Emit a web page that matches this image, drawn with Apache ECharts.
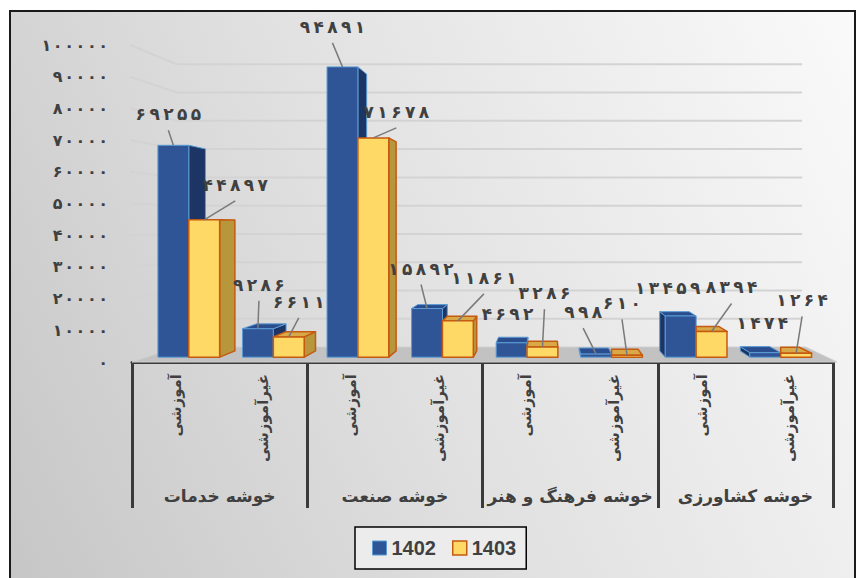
<!DOCTYPE html>
<html><head><meta charset="utf-8">
<script src="https://cdn.jsdelivr.net/npm/echarts@6/dist/echarts.min.js"></script>
<style>
html,body{margin:0;padding:0;background:#fff;width:860px;height:578px;overflow:hidden;}
#frame{position:absolute;left:9px;top:10px;width:843px;height:580px;border:2px solid #1a1a1a;
background:linear-gradient(65deg,#c6c6c6 0%,#e0e0e0 45%,#fafafa 100%);}
#chart{position:absolute;left:0;top:0;width:860px;height:578px;}
</style></head><body>
<div id="frame"></div>
<div id="chart"></div>
<script>
// ---- data ----
const groups = ['خوشه خدمات', 'خوشه صنعت', 'خوشه فرهنگ و هنر', 'خوشه کشاورزی'];
const subCategories = ['آموزشی', 'غیرآموزشی', 'آموزشی', 'غیرآموزشی', 'آموزشی', 'غیرآموزشی', 'آموزشی', 'غیرآموزشی'];
const seriesNames = ['1402', '1403'];
const values1402 = [69255, 9286, 94891, 15892, 4692, 998, 13459, 1474];
const values1403 = [44897, 6611, 71678, 11861, 3286, 610, 8394, 1264];
const yTicks = [0, 10000, 20000, 30000, 40000, 50000, 60000, 70000, 80000, 90000, 100000];

// ---- styling (not data) ----
const FA = '۰۱۲۳۴۵۶۷۸۹';
const faSpaced = (n, gap) => '\u202D' + String(n).split('').map(d => FA[d]).join(gap) + '\u202C';
const VP = [0.591, 0.563];          // vanishing point, fraction of plot rect
const TF = 0.035, TB = 0.08, TW = 0.108;
const BAR_W = 0.365;
const FACE = [
  {front: '#2F5597', side: '#1C3564', top: '#2A4E8D', stroke: '#5B9BD5', lw: 1},
  {front: '#FFD966', side: '#B8963C', top: '#D9A947', stroke: '#C55A11', lw: 1.5}
];
const LABEL_OFFSETS = [
  [[-5, -31], [1, -44], [-10, -40], [-6, -40], [-4, -29], [-13, -42], [-13, -28], [-3, -30]],
  [[31, -35], [10, -35], [23, -26], [26, -43], [2, -54], [-5, -52], [20, -44], [6, -53]]
];
const LEADERS = [[1, 1, 1, 1, 0, 1, 0, 0], [1, 1, 1, 1, 1, 1, 1, 1]];
const TXT = '#404040';
const FAFONT = '"DejaVu Sans", sans-serif';

function geometry(si, params, api) {
  const cs = params.coordSys;
  const vx = cs.x + VP[0] * cs.width, vy = cs.y + VP[1] * cs.height;
  const P = (x, y, t) => [x + (vx - x) * t, y + (vy - y) * t];
  const i = api.value(0), v = api.value(1);
  const cw = api.size([1, 0])[0];
  const base = api.coord([i, 0]), tip = api.coord([i, v]);
  const xl = base[0] + (si === 0 ? -BAR_W * cw : 0), xr = xl + BAR_W * cw;
  const y0 = base[1], yv = tip[1];
  return {i, v, vx, vy, xl, xr, yv,
    fl0: P(xl, y0, TF), fr0: P(xr, y0, TF), fr1: P(xr, yv, TF), fl1: P(xl, yv, TF),
    bl0: P(xl, y0, TB), br0: P(xr, y0, TB), br1: P(xr, yv, TB), bl1: P(xl, yv, TB)};
}

function makeBarRender(si) {
  return function (params, api) {
    const g = geometry(si, params, api);
    const f = FACE[si];
    const poly = (pts, fill) => ({type: 'polygon', shape: {points: pts},
      style: {fill: fill, stroke: f.stroke, lineWidth: f.lw, lineJoin: 'round'}});
    const ch = [];
    if (g.xr < g.vx) ch.push(poly([g.fr0, g.br0, g.br1, g.fr1], f.side));
    if (si === 0 && g.xl > g.vx) ch.push(poly([g.fl0, g.bl0, g.bl1, g.fl1], f.side));
    if (g.yv > g.vy) {
      let pts = [g.fl1, g.fr1, g.br1, g.bl1];
      if (si === 1 && g.xl > g.vx) {
        const k = (g.fl1[0] - g.bl1[0]) / (g.br1[0] - g.bl1[0]);
        pts = [g.fl1, g.fr1, g.br1, [g.fl1[0], g.bl1[1] + (g.br1[1] - g.bl1[1]) * k]];
      }
      ch.push(poly(pts, f.top));
    }
    ch.push(poly([g.fl0, g.fr0, g.fr1, g.fl1], f.front));
    return {type: 'group', children: ch};
  };
}

function makeLabelRender(si) {
  return function (params, api) {
    const g = geometry(si, params, api);
    const tc = [(g.fl1[0] + g.fr1[0]) / 2, g.fl1[1]];
    const off = LABEL_OFFSETS[si][g.i];
    const lx = tc[0] + off[0], ly = tc[1] + off[1];
    const ch = [];
    if (LEADERS[si][g.i]) {
      ch.push({type: 'line', shape: {x1: lx, y1: ly + 16, x2: tc[0], y2: tc[1]},
        style: {stroke: '#7a7a7a', lineWidth: 1.5}});
    }
    ch.push({type: 'text', x: lx, y: ly,
      style: {text: faSpaced(g.v, '\u2009'), fill: TXT, font: 'bold 17px ' + FAFONT, align: 'center', verticalAlign: 'middle'}});
    return {type: 'group', children: ch};
  };
}

function wallRender(params, api) {
  const cs = params.coordSys;
  const vx = cs.x + VP[0] * cs.width, vy = cs.y + VP[1] * cs.height;
  const P = (x, y, t) => [x + (vx - x) * t, y + (vy - y) * t];
  const v = api.value(1);
  const y = api.coord([0, v])[1];
  const xL = cs.x, xR = cs.x + cs.width;
  if (v === 0) {
    return {type: 'polygon', shape: {points: [[xL, y], [xR + 4, y], P(xR + 4, y, TW), P(xL, y, TW)]},
      style: {fill: '#c2c2c2', stroke: '#cfcfcf', lineWidth: 1}};
  }
  return {type: 'polyline', shape: {points: [[xL - 2, y], P(xL, y, TW), P(xR, y, TW)]},
    style: {fill: 'none', stroke: '#d3d3d3', lineWidth: 2}};
}

const data1402 = values1402.map((v, i) => [i, v]);
const data1403 = values1403.map((v, i) => [i, v]);

const chart = echarts.init(document.getElementById('chart'), null, {renderer: 'svg'});
chart.setOption({
  backgroundColor: 'transparent',
  animation: false,
  grid: {left: 132, right: 27, top: 45, bottom: 216, containLabel: false},
  legend: {
    left: 355, top: 527, itemWidth: 14, itemHeight: 14, itemGap: 16,
    padding: [11, 10, 11, 17], borderColor: '#000', borderWidth: 1.5, backgroundColor: '#ececec',
    icon: 'rect',
    textStyle: {fontFamily: 'Liberation Sans', fontWeight: 'bold', fontSize: 20, color: TXT},
    data: [
      {name: seriesNames[0], itemStyle: {color: FACE[0].front, borderColor: FACE[0].stroke, borderWidth: 1}},
      {name: seriesNames[1], itemStyle: {color: FACE[1].front, borderColor: FACE[1].stroke, borderWidth: 1.5}}
    ]
  },
  xAxis: [
    {type: 'category', data: subCategories, position: 'bottom',
      axisLine: {show: false}, axisTick: {show: false}, splitLine: {show: false},
      axisLabel: {interval: 0, rotate: 90, margin: 12, color: TXT, fontFamily: FAFONT, fontWeight: 'bold', fontSize: 15}},
    {type: 'category', data: groups, position: 'bottom',
      axisLine: {show: true, lineStyle: {color: '#3a3a3a', width: 3}},
      axisTick: {show: true, interval: 0, length: 146, lineStyle: {color: '#3a3a3a', width: 3}},
      axisLabel: {interval: 0, margin: 125, color: TXT, fontFamily: FAFONT, fontWeight: 'bold', fontSize: 17}}
  ],
  yAxis: {
    type: 'value', min: 0, max: 100000, interval: 10000,
    axisLine: {show: false}, axisTick: {show: false}, splitLine: {show: false},
    axisLabel: {margin: 24, color: TXT, fontFamily: FAFONT, fontWeight: 'bold', fontSize: 16,
      formatter: v => faSpaced(v, '\u200A')}
  },
  series: [
    {type: 'custom', name: 'wall', silent: true, renderItem: wallRender, clip: false,
      encode: {x: 0, y: 1}, data: yTicks.map(v => [0, v]), z: 1},
    {type: 'custom', name: seriesNames[0], renderItem: makeBarRender(0), clip: false,
      itemStyle: {color: FACE[0].front, borderColor: FACE[0].stroke},
      encode: {x: 0, y: 1}, data: data1402, z: 2},
    {type: 'custom', name: seriesNames[1], renderItem: makeBarRender(1), clip: false,
      itemStyle: {color: FACE[1].front, borderColor: FACE[1].stroke},
      encode: {x: 0, y: 1}, data: data1403, z: 3},
    {type: 'custom', name: 'labels1402', silent: true, renderItem: makeLabelRender(0), clip: false,
      encode: {x: 0, y: 1}, data: data1402, z: 10},
    {type: 'custom', name: 'labels1403', silent: true, renderItem: makeLabelRender(1), clip: false,
      encode: {x: 0, y: 1}, data: data1403, z: 11}
  ]
});
</script>
</body></html>
